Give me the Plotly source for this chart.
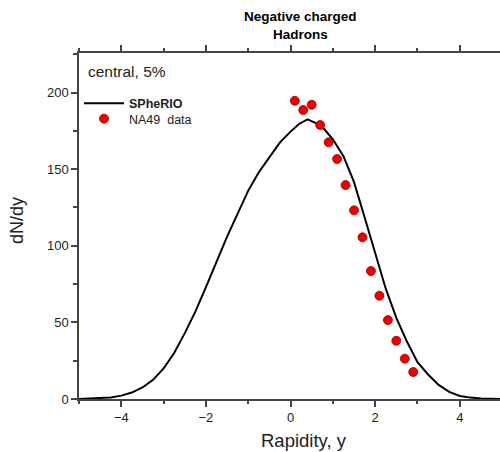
import plotly.graph_objects as go

# SPheRIO curve
curve_y_rap = [-5, -4.75, -4.5, -4.25, -4, -3.75, -3.5, -3.25, -3, -2.75, -2.5, -2.25,
               -2, -1.75, -1.5, -1.25, -1, -0.75, -0.5, -0.25, 0, 0.2, 0.4, 0.6, 0.8,
               1.0, 1.25, 1.5, 1.75, 2.0, 2.25, 2.5, 2.75, 3.0, 3.25, 3.5, 3.75, 4.0,
               4.25, 4.5, 4.75, 5.0]
curve_dndy = [0, 0.2, 0.5, 1.0, 2.2, 4.2, 7.5, 12.5, 20, 30, 43, 57,
              73, 90, 106, 121, 136, 148, 158, 167.5, 174.5, 179.5, 182.5, 180, 176,
              169.5, 158.5, 141.5, 118.6, 95, 72, 53, 37.5, 24, 16, 9.2, 4.6, 2.0,
              0.9, 0.4, 0.1, 0]

# NA49 data
na49_rap = [0.1, 0.3, 0.5, 0.7, 0.9, 1.1, 1.3, 1.5, 1.7, 1.9, 2.1, 2.3, 2.5, 2.7, 2.9]
na49_dndy = [194.6, 188.6, 192.0, 178.8, 167.5, 156.6, 139.6, 123.1, 105.5, 83.5,
             67.4, 51.5, 38.0, 26.3, 17.6]

FONT = "Arial, Liberation Sans, sans-serif"

fig = go.Figure()
fig.add_trace(go.Scatter(x=curve_y_rap, y=curve_dndy, mode="lines",
                         name="<b>SPheRIO</b>", legend="legend",
                         line=dict(color="black", width=2)))
fig.add_trace(go.Scatter(x=na49_rap, y=na49_dndy, mode="markers",
                         name="NA49\u00a0 data", legend="legend2",
                         marker=dict(color="#ee0000", size=9,
                                     line=dict(color="#990000", width=0.8))))

axis_common = dict(showgrid=False, zeroline=False, showline=True,
                   linecolor="#444", linewidth=1.5, ticks="outside",
                   tickcolor="#444", tickwidth=1.5, ticklen=6,
                   tickfont=dict(family=FONT, size=13, color="#222"))

fig.update_xaxes(range=[-5, 4.95], dtick=2, tick0=0, mirror="ticks",
                 minor=dict(dtick=1, ticklen=3.5, tickcolor="#444", tickwidth=1.5, ticks="outside"),
                 **axis_common)
fig.update_yaxes(range=[0, 225.8], dtick=50, tick0=0,
                 minor=dict(dtick=25, ticklen=4, tickcolor="#444", tickwidth=1.5, ticks="outside"),
                 **axis_common)

legend_common = dict(xanchor="left", yanchor="middle", bgcolor="rgba(0,0,0,0)",
                     itemwidth=40,
                     font=dict(family=FONT, size=12.5, color="#222"))

fig.update_layout(
    width=500, height=452,
    margin=dict(l=79, r=0, t=53, b=53),
    plot_bgcolor="white", paper_bgcolor="white",
    showlegend=True,
    legend=dict(x=0.0, y=(399 - 103.5) / 346, **legend_common),
    legend2=dict(x=0.0, y=(399 - 119) / 346, **legend_common),
    annotations=[
        dict(text="<b>Negative charged</b>", x=0.525, y=(399 - 17) / 346,
             xref="paper", yref="paper", showarrow=False,
             font=dict(family=FONT, size=13.5, color="black"), yanchor="middle"),
        dict(text="<b>Hadrons</b>", x=0.525, y=(399 - 34) / 346,
             xref="paper", yref="paper", showarrow=False,
             font=dict(family=FONT, size=13.5, color="black"), yanchor="middle"),
        dict(text="central, 5%", x=(86 - 79) / 421, y=(399 - 71) / 346,
             xref="paper", yref="paper", showarrow=False, xanchor="left",
             yanchor="middle", font=dict(family=FONT, size=15.5, color="#222")),
        dict(text="Rapidity, y", x=(304 - 79) / 421, y=(399 - 440) / 346,
             xref="paper", yref="paper", showarrow=False, yanchor="middle",
             font=dict(family=FONT, size=18.5, color="#222")),
        dict(text="dN/dy", x=(17 - 79) / 421, y=(399 - 221) / 346,
             xref="paper", yref="paper", showarrow=False, textangle=-90,
             xanchor="center", yanchor="middle",
             font=dict(family=FONT, size=18, color="#222")),
    ],
)

fig.write_html("out.html", config={"displayModeBar": False},
               post_script="document.body.style.margin='0';document.body.style.overflow='hidden';")
